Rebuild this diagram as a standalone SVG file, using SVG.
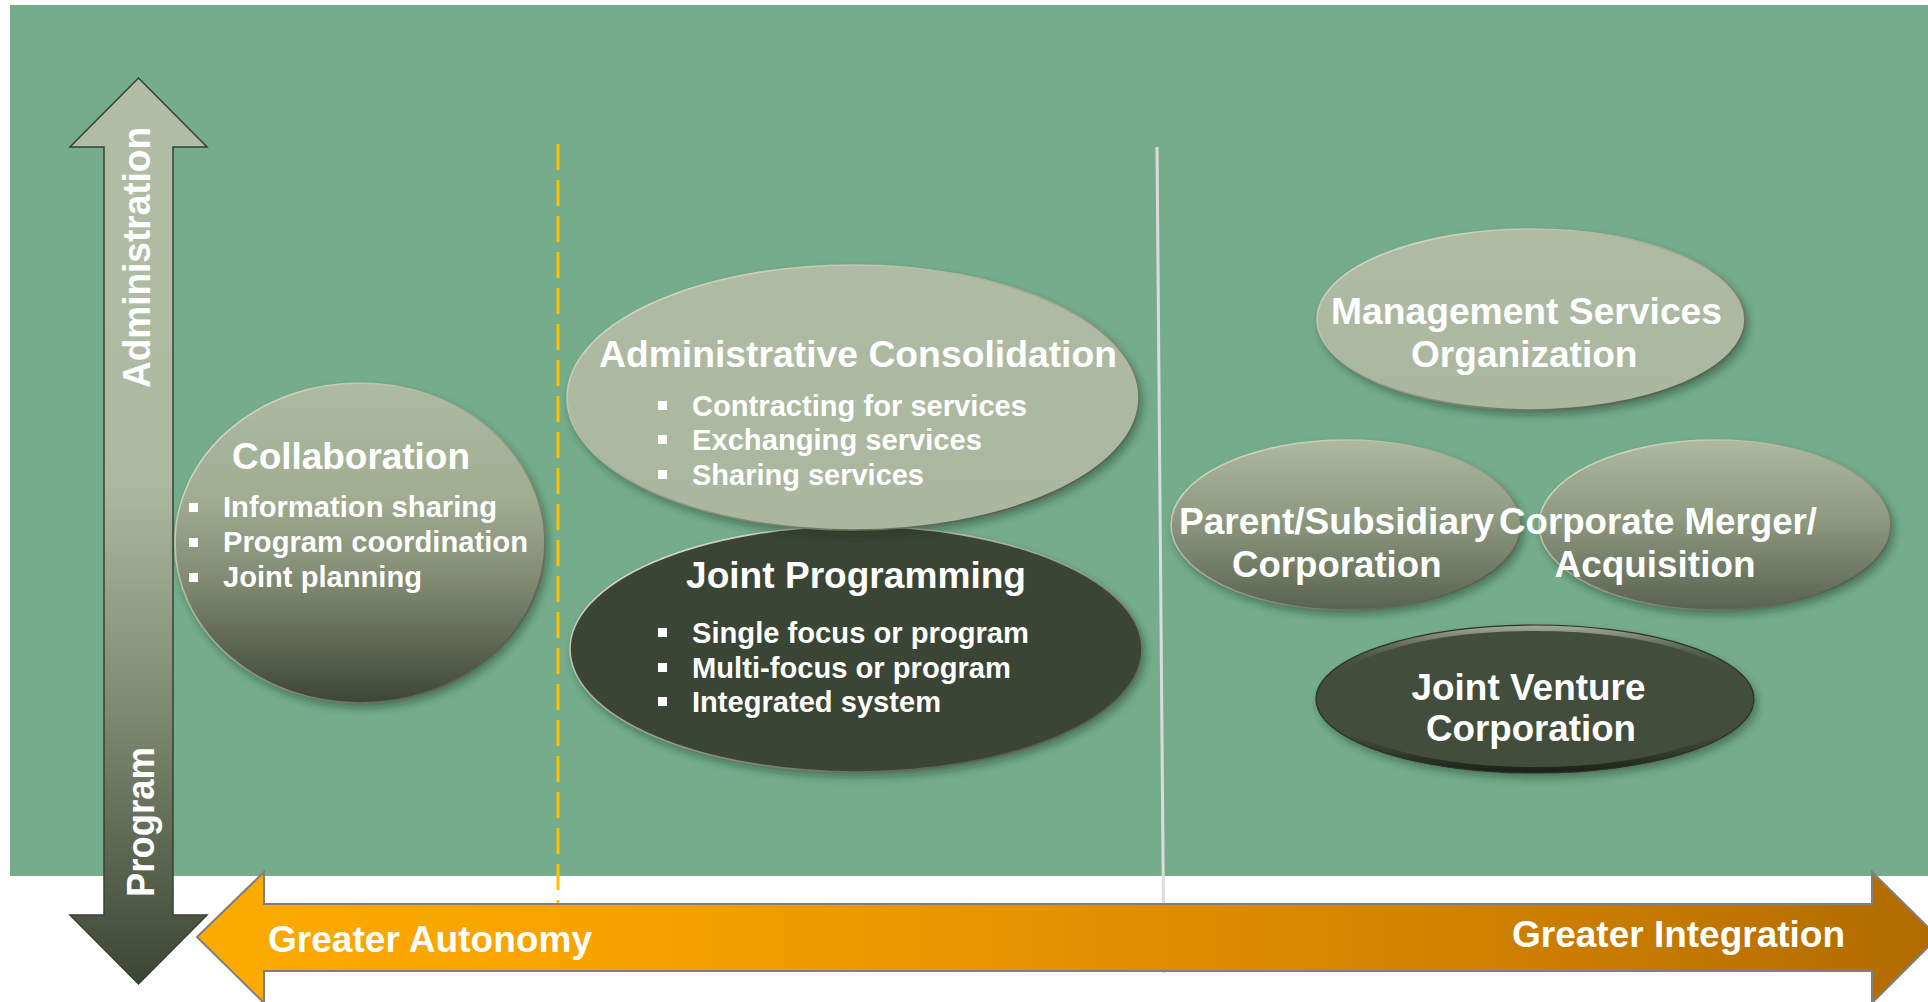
<svg xmlns="http://www.w3.org/2000/svg" width="1928" height="1002" viewBox="0 0 1928 1002">
<style>
.t{font-family:"Liberation Sans",Arial,sans-serif;font-weight:bold;fill:#ffffff;}
.h{font-size:37px;}
.b{font-size:29px;}
.sq{fill:#ffffff;}
.rim{fill:none;stroke:url(#rim);stroke-width:1.6;}
</style>
<defs>
<filter id="sh" x="-20%" y="-20%" width="140%" height="150%">
<feDropShadow dx="3" dy="5" stdDeviation="4" flood-color="#1e2a1e" flood-opacity="0.45"/>
</filter>
<linearGradient id="rim" x1="0" y1="0" x2="1" y2="1">
<stop offset="0" stop-color="#e4ead9"/>
<stop offset="0.5" stop-color="#9aa58b"/>
<stop offset="1" stop-color="#3a4232"/>
</linearGradient>
<linearGradient id="vArrow" gradientUnits="userSpaceOnUse" x1="0" y1="78" x2="0" y2="984">
<stop offset="0" stop-color="#b2bda6"/>
<stop offset="0.45" stop-color="#adb8a0"/>
<stop offset="0.7" stop-color="#7f8870"/>
<stop offset="1" stop-color="#3c4634"/>
</linearGradient>
<linearGradient id="hArrow" gradientUnits="userSpaceOnUse" x1="197" y1="0" x2="1938" y2="0">
<stop offset="0" stop-color="#fcab00"/>
<stop offset="0.25" stop-color="#f6a200"/>
<stop offset="0.55" stop-color="#e08e00"/>
<stop offset="0.8" stop-color="#c97c00"/>
<stop offset="1" stop-color="#b06b00"/>
</linearGradient>
<linearGradient id="collab" x1="0" y1="0" x2="0" y2="1">
<stop offset="0" stop-color="#aebba1"/>
<stop offset="0.35" stop-color="#a2ad92"/>
<stop offset="0.6" stop-color="#848d74"/>
<stop offset="1" stop-color="#3e4636"/>
</linearGradient>
<linearGradient id="light" x1="0" y1="0" x2="0" y2="1">
<stop offset="0" stop-color="#b0bba4"/>
<stop offset="1" stop-color="#abb69f"/>
</linearGradient>
<linearGradient id="mid" x1="0" y1="0" x2="0" y2="1">
<stop offset="0" stop-color="#adb9a0"/>
<stop offset="0.45" stop-color="#8f9a80"/>
<stop offset="1" stop-color="#5a624f"/>
</linearGradient>
<linearGradient id="bevel" x1="0" y1="0" x2="0" y2="1">
<stop offset="0" stop-color="#9aa490"/>
<stop offset="0.3" stop-color="#4a5441" stop-opacity="0"/>
<stop offset="0.75" stop-color="#2a3124" stop-opacity="0"/>
<stop offset="1" stop-color="#1d2319"/>
</linearGradient>
</defs>

<rect x="0" y="0" width="1928" height="1002" fill="#ffffff"/>
<rect id="background" x="10" y="5" width="1918" height="871" fill="#74ac8c"/>

<g id="dividers">
<line x1="558" y1="144" x2="558" y2="904" stroke="#ffc000" stroke-width="3" stroke-dasharray="26 10"/>
<line x1="1157" y1="147" x2="1164" y2="973" stroke="#dcdcdc" stroke-width="3"/>
</g>

<g id="connectors">
<g id="axis-vertical">
<polygon points="138.5,78 207,147 173,147 173,915 207,915 138.5,984 70,915 104,915 104,147 70,147" fill="url(#vArrow)" stroke="#3a3f33" stroke-width="1.5"/>
<text class="t" font-size="38" transform="translate(150,257.5) rotate(-90)" text-anchor="middle" textLength="261" lengthAdjust="spacingAndGlyphs">Administration</text>
<text class="t" font-size="38" transform="translate(154,822) rotate(-90)" text-anchor="middle" textLength="150" lengthAdjust="spacingAndGlyphs">Program</text>
</g>
<g id="axis-horizontal">
<polygon points="197,937 264,872 264,904 1872,904 1872,872 1938,937 1872,1003 1872,971 264,971 264,1003" fill="url(#hArrow)" stroke="#7f7f7f" stroke-width="2"/>
<text class="t h" x="268" y="952" textLength="324" lengthAdjust="spacingAndGlyphs">Greater Autonomy</text>
<text class="t h" x="1512" y="947" textLength="333" lengthAdjust="spacingAndGlyphs">Greater Integration</text>
</g>
</g>

<g id="collaboration">
<ellipse cx="360" cy="543" rx="185" ry="160" fill="url(#collab)" filter="url(#sh)"/>
<ellipse class="rim" cx="360" cy="543" rx="185" ry="160"/>
<text class="t h" x="232" y="469" textLength="238" lengthAdjust="spacingAndGlyphs">Collaboration</text>
<rect class="sq" x="189" y="503" width="9" height="9"/>
<rect class="sq" x="189" y="538" width="9" height="9"/>
<rect class="sq" x="189" y="573" width="9" height="9"/>
<text class="t b" x="223" y="517" textLength="274" lengthAdjust="spacingAndGlyphs">Information sharing</text>
<text class="t b" x="223" y="552" textLength="305" lengthAdjust="spacingAndGlyphs">Program coordination</text>
<text class="t b" x="223" y="587" textLength="199" lengthAdjust="spacingAndGlyphs">Joint planning</text>
</g>

<g id="joint-programming">
<ellipse cx="856" cy="649" rx="286" ry="123" fill="#3a4534" filter="url(#sh)"/>
<ellipse class="rim" cx="856" cy="649" rx="286" ry="123"/>
<text class="t h" x="686" y="588" textLength="340" lengthAdjust="spacingAndGlyphs">Joint Programming</text>
<rect class="sq" x="658" y="628" width="9" height="9"/>
<rect class="sq" x="658" y="663" width="9" height="9"/>
<rect class="sq" x="658" y="697" width="9" height="9"/>
<text class="t b" x="692" y="643" textLength="337" lengthAdjust="spacingAndGlyphs">Single focus or program</text>
<text class="t b" x="692" y="678" textLength="319" lengthAdjust="spacingAndGlyphs">Multi-focus or program</text>
<text class="t b" x="692" y="712" textLength="249" lengthAdjust="spacingAndGlyphs">Integrated system</text>
</g>

<g id="administrative-consolidation">
<ellipse cx="853" cy="397.5" rx="286" ry="132.5" fill="url(#light)" filter="url(#sh)"/>
<ellipse class="rim" cx="853" cy="397.5" rx="286" ry="132.5"/>
<text class="t h" x="599" y="367" textLength="518" lengthAdjust="spacingAndGlyphs">Administrative Consolidation</text>
<rect class="sq" x="658" y="401" width="9" height="9"/>
<rect class="sq" x="658" y="435" width="9" height="9"/>
<rect class="sq" x="658" y="470" width="9" height="9"/>
<text class="t b" x="692" y="416" textLength="335" lengthAdjust="spacingAndGlyphs">Contracting for services</text>
<text class="t b" x="692" y="450" textLength="290" lengthAdjust="spacingAndGlyphs">Exchanging services</text>
<text class="t b" x="692" y="485" textLength="232" lengthAdjust="spacingAndGlyphs">Sharing services</text>
</g>

<g id="management-services-organization">
<ellipse cx="1531" cy="319.5" rx="214" ry="90.5" fill="url(#light)" filter="url(#sh)"/>
<ellipse class="rim" cx="1531" cy="319.5" rx="214" ry="90.5"/>
<text class="t h" x="1331" y="324" textLength="391" lengthAdjust="spacingAndGlyphs">Management Services</text>
<text class="t h" x="1411" y="366.5" textLength="226.5" lengthAdjust="spacingAndGlyphs">Organization</text>
</g>

<g id="parent-subsidiary-corporation">
<ellipse cx="1346" cy="525" rx="175" ry="85" fill="url(#mid)" filter="url(#sh)"/>
<ellipse class="rim" cx="1346" cy="525" rx="175" ry="85"/>
<text class="t h" x="1179" y="534" textLength="315" lengthAdjust="spacingAndGlyphs">Parent/Subsidiary</text>
<text class="t h" x="1232" y="577" textLength="209.5" lengthAdjust="spacingAndGlyphs">Corporation</text>
</g>

<g id="corporate-merger-acquisition">
<ellipse cx="1715" cy="525" rx="176" ry="85" fill="url(#mid)" filter="url(#sh)"/>
<ellipse class="rim" cx="1715" cy="525" rx="176" ry="85"/>
<text class="t h" x="1499" y="534" textLength="318" lengthAdjust="spacingAndGlyphs">Corporate Merger/</text>
<text class="t h" x="1554.5" y="577" textLength="201" lengthAdjust="spacingAndGlyphs">Acquisition</text>
</g>

<g id="joint-venture-corporation">
<ellipse cx="1535" cy="699" rx="219" ry="74" fill="#434d3b" filter="url(#sh)"/>
<ellipse cx="1535" cy="699" rx="216" ry="71" fill="none" stroke="url(#bevel)" stroke-width="6"/>
<ellipse cx="1535" cy="699" rx="219" ry="74" fill="none" stroke="#2c3326" stroke-width="1.2"/>
<text class="t h" x="1411.5" y="700" textLength="234" lengthAdjust="spacingAndGlyphs">Joint Venture</text>
<text class="t h" x="1426" y="741" textLength="210" lengthAdjust="spacingAndGlyphs">Corporation</text>
</g>
</svg>
